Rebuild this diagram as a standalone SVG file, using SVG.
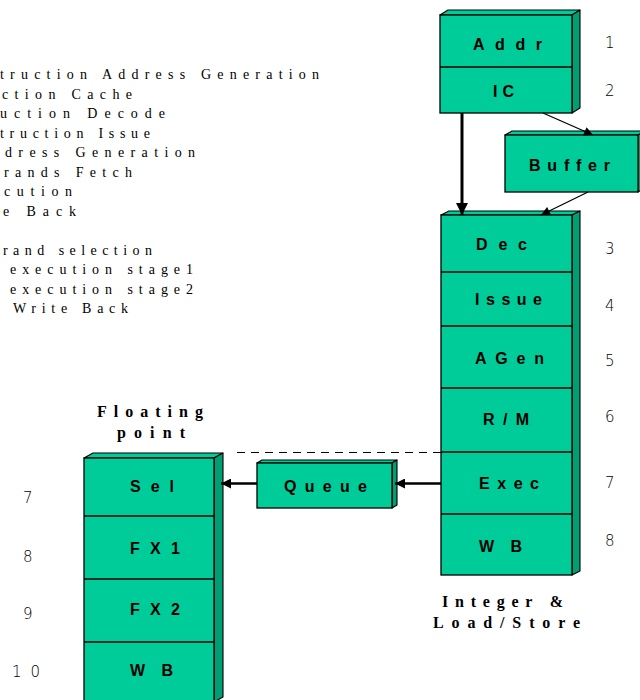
<svg xmlns="http://www.w3.org/2000/svg" width="640" height="700" viewBox="0 0 640 700">
<style>
.front{fill:#00CC99;stroke:#000;stroke-width:1.3}
.top{fill:#00CC99;stroke:#000;stroke-width:1.1;stroke-linejoin:round}
.side{fill:#009E72;stroke:#000;stroke-width:1.1;stroke-linejoin:round}
.div{stroke:#000;stroke-width:1.3}
.lbl{font-family:"Liberation Sans",Arial,sans-serif;font-weight:bold;font-size:16px;fill:#000}
.num{font-family:"DejaVu Sans","Liberation Sans",sans-serif;font-size:15px;fill:#000;font-weight:300}
.leg{font-family:"Liberation Serif","Times New Roman",serif;font-size:14px;fill:#000}
.hdr{font-family:"Liberation Serif","Times New Roman",serif;font-weight:bold;font-size:16px;fill:#000}
.ln{stroke:#000;fill:none}
</style>
<defs>
<marker id="ah" viewBox="0 0 10 10" refX="10" refY="5" markerWidth="14" markerHeight="9" markerUnits="userSpaceOnUse" orient="auto">
<path d="M0,0 L10,5 L0,10 z" fill="#000"/>
</marker>
<marker id="ahb" viewBox="0 0 10 10" refX="10" refY="5" markerWidth="16" markerHeight="12" markerUnits="userSpaceOnUse" orient="auto">
<path d="M0,0 L10,5 L0,10 z" fill="#000"/>
</marker>
<marker id="ahm" viewBox="0 0 10 10" refX="10" refY="5" markerWidth="18" markerHeight="10" markerUnits="userSpaceOnUse" orient="auto">
<path d="M0,0 L10,5 L0,10 z" fill="#000"/>
</marker>
</defs>

<g id="legend">
<text class="leg" x="0" y="79" textLength="319" lengthAdjust="spacing">truction Address Generation</text>
<text class="leg" x="2" y="98.5" textLength="130" lengthAdjust="spacing">ction Cache</text>
<text class="leg" x="0" y="118" textLength="165" lengthAdjust="spacing">uction Decode</text>
<text class="leg" x="0" y="137.5" textLength="150" lengthAdjust="spacing">truction Issue</text>
<text class="leg" x="5" y="157" textLength="190" lengthAdjust="spacing">dress Generation</text>
<text class="leg" x="4" y="176.5" textLength="128" lengthAdjust="spacing">rands Fetch</text>
<text class="leg" x="4" y="196" textLength="68" lengthAdjust="spacing">cution</text>
<text class="leg" x="3" y="215.5" textLength="73" lengthAdjust="spacing">e Back</text>
<text class="leg" x="3" y="254.5" textLength="149" lengthAdjust="spacing">rand selection</text>
<text class="leg" x="10" y="274" textLength="183" lengthAdjust="spacing">execution stage1</text>
<text class="leg" x="10" y="293.5" textLength="183" lengthAdjust="spacing">execution stage2</text>
<text class="leg" x="13" y="313" textLength="115" lengthAdjust="spacing">Write Back</text>
</g>

<g id="addr-ic">
<polygon class="top" points="440,15 448,10 580,10 572,15"/>
<polygon class="side" points="572,15 580,10 580,108 572,113"/>
<rect class="front" x="440" y="15" width="132" height="98"/>
<line class="div" x1="440" y1="67" x2="572" y2="67"/>
<text class="lbl" x="473" y="50" font-size="17" textLength="69" lengthAdjust="spacing">Addr</text>
<text class="lbl" x="493" y="97" font-size="17" textLength="21" lengthAdjust="spacing">IC</text>
</g>

<g id="buffer">
<polygon class="top" points="505,135 512,131 645,131 638,135"/>
<polygon class="side" points="638,135 645,131 645,188 638,192"/>
<rect class="front" x="505" y="135" width="133" height="57"/>
<text class="lbl" x="529" y="171" textLength="81" lengthAdjust="spacing">Buffer</text>
</g>

<g id="integer">
<polygon class="top" points="441,215 449,211 580,211 572,215"/>
<polygon class="side" points="572,215 580,211 580,571 572,575"/>
<rect class="front" x="441" y="215" width="131" height="360"/>
<line class="div" x1="441" y1="272" x2="572" y2="272"/>
<line class="div" x1="441" y1="326" x2="572" y2="326"/>
<line class="div" x1="441" y1="388" x2="572" y2="388"/>
<line class="div" x1="441" y1="452" x2="572" y2="452"/>
<line class="div" x1="441" y1="514" x2="572" y2="514"/>
<text class="lbl" x="476" y="250" font-size="17" textLength="51" lengthAdjust="spacing">Dec</text>
<text class="lbl" x="475" y="305" font-size="14" textLength="67" lengthAdjust="spacing">Issue</text>
<text class="lbl" x="475" y="364" font-size="16" textLength="69" lengthAdjust="spacing">AGen</text>
<text class="lbl" x="483" y="425" font-size="17" textLength="46" lengthAdjust="spacing">R/M</text>
<text class="lbl" x="479" y="489" font-size="16" textLength="60" lengthAdjust="spacing">Exec</text>
<text class="lbl" x="479" y="552" font-size="17" textLength="43" lengthAdjust="spacing">WB</text>
</g>

<g id="queue">
<polygon class="top" points="257,463 262,460 397,460 392,463"/>
<polygon class="side" points="392,463 397,460 397,505 392,508"/>
<rect class="front" x="257" y="463" width="135" height="45"/>
<text class="lbl" x="284" y="492" font-size="15" textLength="83" lengthAdjust="spacing">Queue</text>
</g>

<g id="floating">
<polygon class="top" points="84,458 93,453 223,453 214,458"/>
<polygon class="side" points="214,458 223,453 223,697 214,702"/>
<rect class="front" x="84" y="458" width="130" height="250"/>
<line class="div" x1="84" y1="516" x2="214" y2="516"/>
<line class="div" x1="84" y1="579" x2="214" y2="579"/>
<line class="div" x1="84" y1="642" x2="214" y2="642"/>
<text class="lbl" x="130" y="492" font-size="16" textLength="44" lengthAdjust="spacing">Sel</text>
<text class="lbl" x="130" y="554" font-size="16" textLength="50" lengthAdjust="spacing">FX1</text>
<text class="lbl" x="130" y="615" font-size="16" textLength="50" lengthAdjust="spacing">FX2</text>
<text class="lbl" x="130" y="676" font-size="17" textLength="43" lengthAdjust="spacing">WB</text>
</g>

<g id="connectors">
<line class="ln" x1="543" y1="113" x2="593" y2="135" stroke-width="1.3" marker-end="url(#ah)"/>
<line class="ln" x1="588" y1="192" x2="541" y2="215" stroke-width="1.3" marker-end="url(#ah)"/>
<line class="ln" x1="462" y1="113" x2="462" y2="215" stroke-width="3" marker-end="url(#ahb)"/>
<line class="ln" x1="441" y1="483.5" x2="395" y2="483.5" stroke-width="2.5" marker-end="url(#ahm)"/>
<line class="ln" x1="257" y1="483.5" x2="221" y2="483.5" stroke-width="2.5" marker-end="url(#ahm)"/>
<line class="ln" x1="237" y1="452.5" x2="441" y2="452.5" stroke-width="1" stroke-dasharray="8,6"/>
</g>

<g id="stage-numbers">
<text class="num" x="605" y="48">1</text>
<text class="num" x="605" y="96">2</text>
<text class="num" x="605" y="254">3</text>
<text class="num" x="605" y="311">4</text>
<text class="num" x="605" y="366">5</text>
<text class="num" x="605" y="422">6</text>
<text class="num" x="605" y="488">7</text>
<text class="num" x="605" y="546">8</text>
<text class="num" x="23" y="503">7</text>
<text class="num" x="23" y="562">8</text>
<text class="num" x="23" y="619">9</text>
<text class="num" x="12" y="677" letter-spacing="9">10</text>
</g>

<g id="headers">
<text class="hdr" x="97" y="417" textLength="106" lengthAdjust="spacing">Floating</text>
<text class="hdr" x="117" y="438" textLength="68" lengthAdjust="spacing">point</text>
<text class="hdr" x="442" y="607" textLength="121" lengthAdjust="spacing">Integer &amp;</text>
<text class="hdr" x="433" y="628" textLength="147" lengthAdjust="spacing">Load/Store</text>
</g>
</svg>
